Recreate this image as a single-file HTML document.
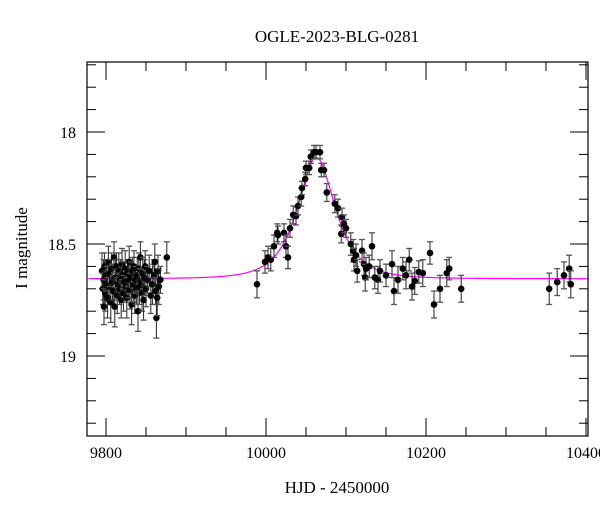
<!DOCTYPE html>
<html><head><meta charset="utf-8"><style>
html,body{margin:0;padding:0;background:#fff;width:600px;height:512px;overflow:hidden}
text{font-family:"Liberation Serif",serif;fill:#000}
</style></head><body>
<svg id="chart" width="600" height="512" viewBox="0 0 600 512" xmlns="http://www.w3.org/2000/svg">
<text x="337" y="42" text-anchor="middle" font-size="17">OGLE-2023-BLG-0281</text>
<text x="337" y="493" text-anchor="middle" font-size="17">HJD - 2450000</text>
<text x="27" y="248" text-anchor="middle" font-size="17" transform="rotate(-90 27 248)">I magnitude</text>
<g id="grid"></g>
<g id="model"></g>
<g id="pts"></g>
<rect x="87" y="62" width="501" height="374" fill="none" stroke="#000" stroke-width="1.2"/>
</svg>
<script>
const times=[9795,9796,9797,9797.5,9798,9799,9800,9801,9802,9803,9804,9805,9806,9807,9808,9809,9810,9811,9812,9813,9814,9815,9816,9817,9818,9819,9820,9821,9822,9823,9824,9825,9826,9827,9828,9829,9830,9831,9832,9833,9834,9835,9836,9837,9838,9839,9840,9841,9842,9843,9844,9845,9846,9847,9848,9849,9850,9852,9854,9856,9858,9860,9861,9862,9863,9864,9865,9866,9868,9876,
9988.75,9998.75,10002.5,10006,10010,10014,10015,10022.5,10025,10027.5,10030,10034,10037.5,10040,10044,10045,10049,10050,10054,10056,10060,10062.5,10067.5,10069,10072.5,10076,10086,10090,10094,10095,10097.5,10100,10106,10109,10110,10112.5,10114,10120,10122.5,10124,10125,10129,10132.5,10136,10140,10142.5,10150,10157.5,10160,10165,10171,10175,10179,10182.5,10186,10191,10196,10205,10210,10217.5,10226,10229,10244,10354,10364,10372.5,10379,10381];
const mags=[18.62,18.70,18.66,18.78,18.60,18.72,18.64,18.68,18.74,18.58,18.69,18.63,18.76,18.61,18.67,18.71,18.56,18.78,18.65,18.60,18.73,18.68,18.62,18.70,18.66,18.75,18.59,18.64,18.72,18.67,18.61,18.69,18.74,18.63,18.66,18.58,18.71,18.65,18.77,18.62,18.68,18.60,18.73,18.66,18.70,18.64,18.80,18.61,18.69,18.56,18.67,18.72,18.63,18.75,18.65,18.60,18.70,18.66,18.62,18.73,18.68,18.64,18.58,18.71,18.83,18.74,18.62,18.69,18.66,18.56,
18.68,18.58,18.56,18.57,18.51,18.45,18.46,18.45,18.51,18.56,18.43,18.37,18.375,18.33,18.29,18.25,18.21,18.16,18.16,18.11,18.09,18.09,18.09,18.17,18.17,18.27,18.32,18.34,18.455,18.38,18.41,18.43,18.50,18.53,18.57,18.55,18.62,18.53,18.59,18.65,18.61,18.60,18.51,18.65,18.66,18.62,18.64,18.59,18.71,18.66,18.61,18.64,18.57,18.69,18.665,18.625,18.63,18.54,18.77,18.70,18.63,18.61,18.70,18.70,18.67,18.64,18.61,18.68];
const errs=[0.08,0.07,0.09,0.08,0.06,0.08,0.07,0.08,0.09,0.07,0.08,0.06,0.09,0.07,0.08,0.07,0.07,0.09,0.08,0.06,0.08,0.07,0.08,0.07,0.09,0.08,0.07,0.06,0.08,0.07,0.08,0.07,0.09,0.06,0.08,0.07,0.08,0.07,0.09,0.06,0.08,0.07,0.08,0.06,0.07,0.08,0.09,0.07,0.08,0.07,0.06,0.08,0.07,0.09,0.08,0.07,0.08,0.06,0.07,0.08,0.09,0.07,0.08,0.06,0.09,0.08,0.07,0.08,0.06,0.07,
0.06,0.05,0.05,0.05,0.05,0.04,0.04,0.04,0.05,0.05,0.04,0.04,0.04,0.04,0.04,0.03,0.03,0.03,0.03,0.03,0.03,0.03,0.03,0.03,0.03,0.04,0.04,0.04,0.04,0.04,0.04,0.04,0.05,0.05,0.05,0.05,0.05,0.05,0.05,0.06,0.05,0.05,0.06,0.05,0.06,0.05,0.05,0.06,0.06,0.06,0.05,0.06,0.05,0.06,0.06,0.05,0.06,0.05,0.06,0.06,0.06,0.05,0.06,0.07,0.06,0.06,0.06,0.06];
const xTicks=[9800,10000,10200,10400];
const yTicks=[18,18.5,19];
const t0=10063,u0=0.72,tE=34,base=18.655;
const NS="http://www.w3.org/2000/svg";
const X0=9800,PX0=106,XS=0.8, Y0=18,PY0=132,YS=224;
const L=87,R=588,T=62,B=436;
function xp(t){return PX0+(t-X0)*XS;}
function yp(m){return PY0+(m-Y0)*YS;}
function mk(tag,attrs,parent){const e=document.createElementNS(NS,tag);for(const k in attrs)e.setAttribute(k,attrs[k]);parent.appendChild(e);return e;}
const grid=document.getElementById('grid');
for(let t=9750;t<=10400;t+=50){const x=xp(t);if(x<L||x>R)continue;const major=(t%200===0);const len=major?18:9;
const a=mk('line',{x1:x,x2:x,y1:B,y2:B-len,stroke:'#000','stroke-width':1},grid);
const b=mk('line',{x1:x,x2:x,y1:T,y2:T+len,stroke:'#000','stroke-width':1},grid);}
for(let i=0;i<=17;i++){const m=17.7+i*0.1;const y=yp(m);if(y<T||y>B)continue;const major=Math.abs(m*2-Math.round(m*2))<1e-6;const len=major?18:9;
const a=mk('line',{x1:L,x2:L+len,y1:y,y2:y,stroke:'#000','stroke-width':1},grid);
const b=mk('line',{x1:R,x2:R-len,y1:y,y2:y,stroke:'#000','stroke-width':1},grid);}
xTicks.forEach(t=>{const e=mk('text',{x:xp(t),y:458,'text-anchor':'middle','font-size':16},grid);e.textContent=String(t);
});
yTicks.forEach(m=>{const e=mk('text',{x:76,y:yp(m)+6,'text-anchor':'end','font-size':16},grid);e.textContent=String(m);
});
// model
let d='';for(let t=9778;t<=10402;t+=1){const u=Math.sqrt(u0*u0+Math.pow((t-t0)/tE,2));const A=(u*u+2)/(u*Math.sqrt(u*u+4));const m=base-2.5*Math.log10(A);d+=(d?'L':'M')+xp(t).toFixed(1)+','+yp(m).toFixed(1);}
const ml=mk('path',{d:d,fill:'none',stroke:'#f0f','stroke-width':1.2},document.getElementById('model'));

const pts=document.getElementById('pts');
times.forEach((t,i)=>{const x=xp(t),y=yp(mags[i]),e=errs[i]*YS;
const g=mk('g',{},pts);
mk('line',{x1:x,x2:x,y1:y-e,y2:y+e,stroke:'#222','stroke-width':1},g);
mk('line',{x1:x-3,x2:x+3,y1:y-e,y2:y-e,stroke:'#555','stroke-width':1.3},g);
mk('line',{x1:x-3,x2:x+3,y1:y+e,y2:y+e,stroke:'#555','stroke-width':1.3},g);
mk('circle',{cx:x,cy:y,r:3.3,fill:'#000'},g);});
</script>
</body></html>
